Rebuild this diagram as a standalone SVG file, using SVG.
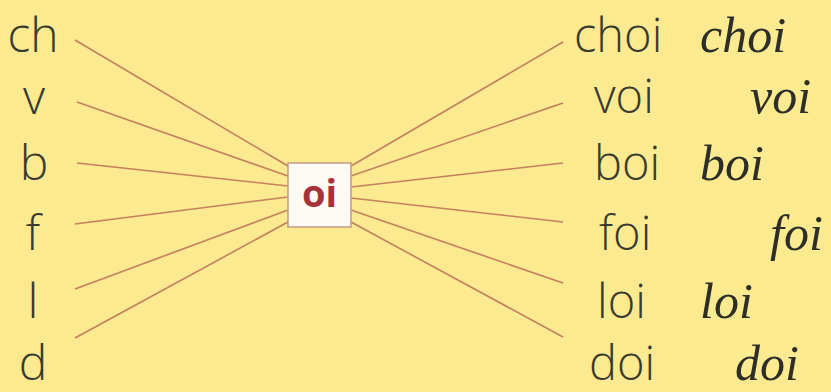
<svg xmlns="http://www.w3.org/2000/svg" width="831" height="392" viewBox="0 0 831 392">
<style>
.l{font-family:"Open Sans","DejaVu Sans",sans-serif;font-weight:300;font-size:48px;fill:#3a3a30}
.r{font-family:"Open Sans","DejaVu Sans",sans-serif;font-weight:300;font-size:47px;fill:#3a3a30}
.c{font-family:"Liberation Serif","DejaVu Serif",serif;font-style:italic;font-size:50px;fill:#2e2e28}
.ln{stroke:#c47f5e;stroke-width:1.6;fill:none}
</style>
<rect width="831" height="392" fill="#fbea8f"/>
<g id="connectors">
<line class="ln" x1="75" y1="40" x2="288" y2="166"/>
<line class="ln" x1="77" y1="102" x2="288" y2="176"/>
<line class="ln" x1="77" y1="163" x2="288" y2="186"/>
<line class="ln" x1="75" y1="224" x2="288" y2="197"/>
<line class="ln" x1="75" y1="289" x2="288" y2="210"/>
<line class="ln" x1="75" y1="338" x2="288" y2="222"/>
<line class="ln" x1="351" y1="166" x2="563" y2="42"/>
<line class="ln" x1="351" y1="176" x2="563" y2="103"/>
<line class="ln" x1="351" y1="187" x2="563" y2="163"/>
<line class="ln" x1="351" y1="198" x2="563" y2="222"/>
<line class="ln" x1="351" y1="210" x2="563" y2="283"/>
<line class="ln" x1="351" y1="222" x2="563" y2="337"/>
</g>
<g id="center">
<rect x="288" y="163" width="63" height="64" fill="#fdf9f3" stroke="#c49a80" stroke-width="1.5"/>
<text x="319.5" y="207" text-anchor="middle" font-family="'Open Sans','DejaVu Sans',sans-serif" font-weight="700" font-size="38" fill="#a8323a">oi</text>
</g>
<g id="left">
<text class="l" x="33" y="52" text-anchor="middle">ch</text>
<text class="l" x="34" y="114" text-anchor="middle">v</text>
<text class="l" x="34" y="180" text-anchor="middle">b</text>
<text class="l" x="33" y="250" text-anchor="middle">f</text>
<text class="l" x="33" y="318" text-anchor="middle">l</text>
<text class="l" x="33" y="380" text-anchor="middle">d</text>
</g>
<g id="right">
<text class="r" x="574" y="52">choi</text>
<text class="r" x="594" y="113">voi</text>
<text class="r" x="594" y="180">boi</text>
<text class="r" x="599" y="250">foi</text>
<text class="r" x="597" y="318">loi</text>
<text class="r" x="589" y="380">doi</text>
</g>
<g id="cursive">
<text class="c" x="700" y="52">choi</text>
<text class="c" x="750" y="113">voi</text>
<text class="c" x="700" y="180">boi</text>
<text class="c" x="770" y="250">foi</text>
<text class="c" x="700" y="318">loi</text>
<text class="c" x="735" y="380">doi</text>
</g>
</svg>
